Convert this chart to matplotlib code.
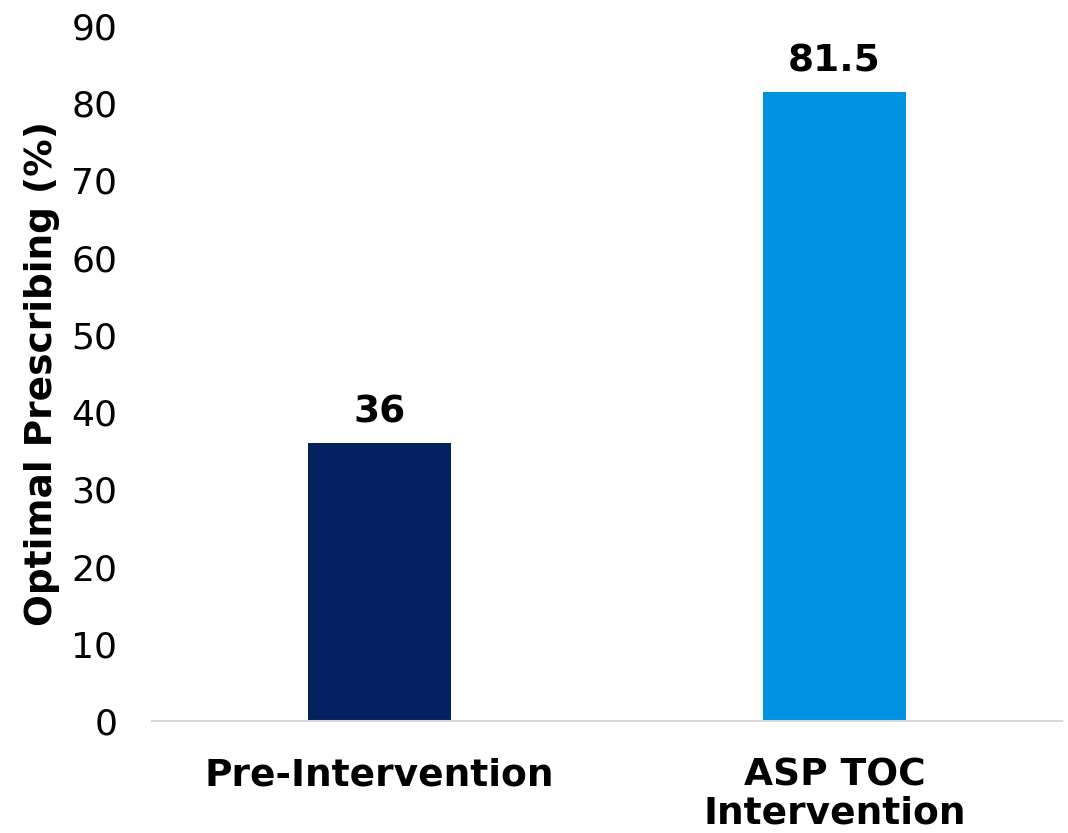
import matplotlib
matplotlib.use("Agg")
import matplotlib.pyplot as plt

categories = ["Pre-Intervention", "ASP TOC\nIntervention"]
values = [36, 81.5]
value_labels = ["36", "81.5"]
colors = ["#03215F", "#0091E0"]
yticks = [0, 10, 20, 30, 40, 50, 60, 70, 80, 90]

plt.rcParams['font.family'] = ['DejaVu Sans']

fig = plt.figure(figsize=(10.68, 8.33), dpi=100)
ax = fig.add_axes([152/1068, 1-721/833, 910/1068, 695/833])

x = list(range(len(categories)))
bars = ax.bar(x, values, width=0.314, color=colors)
for b, lab in zip(bars, value_labels):
    ax.annotate(lab, (b.get_x() + b.get_width()/2, b.get_height()),
                xytext=(0, 9), textcoords="offset points",
                ha="center", va="bottom", fontsize=27, fontweight="bold")

ax.set_xlim(-0.5, 1.5)
ax.set_ylim(0, 90)
ax.set_yticks(yticks)
ax.set_xticks(x)
ax.set_xticklabels(categories, fontsize=27, fontweight="bold", linespacing=1.07)
ax.tick_params(axis="y", length=0, labelsize=26, pad=25)
ax.tick_params(axis="x", length=0, pad=26)
for s in ["left", "right", "top"]:
    ax.spines[s].set_visible(False)
ax.spines["bottom"].set_color("#d9d9d9")
ax.spines["bottom"].set_linewidth(1.5)
ax.set_ylabel("Optimal Prescribing (%)", fontsize=27, fontweight="bold", labelpad=8)

fig.savefig("out.png", dpi=100)
